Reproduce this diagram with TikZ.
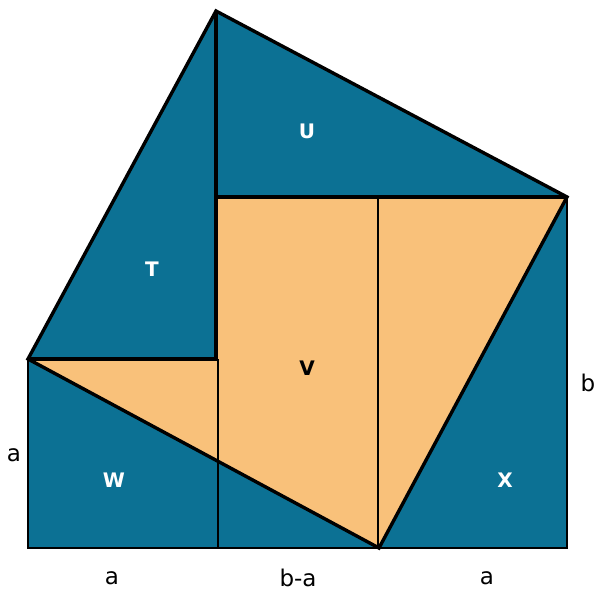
\documentclass[tikz,border=0pt]{standalone}
\usepackage{fontspec}
\setmainfont{DejaVu Sans}
\definecolor{tealblue}{HTML}{0C7194}
\definecolor{peach}{HTML}{F9C17A}
\tikzset{
  thinln/.style={draw=black, line width=2pt},
  thickln/.style={draw=black, line width=3.4pt, line join=miter},
  region/.style={font=\fontsize{20}{20}\selectfont\bfseries, text=white},
  dimlbl/.style={font=\fontsize{23}{23}\selectfont, text=black}
}
\begin{document}
\begin{tikzpicture}[x=1pt,y=-1pt]
\useasboundingbox (0,0) rectangle (611,602);
% key points
\coordinate (L) at (28,359);
\coordinate (A) at (216,11);
\coordinate (R) at (567,197);
\coordinate (B) at (379,548);
\coordinate (BL) at (28,548);
\coordinate (BR) at (567,548);
\coordinate (IC) at (216,359);
\coordinate (IT) at (216,197);
\coordinate (M1) at (218,359);
\coordinate (M1b) at (218,548);
\coordinate (M2) at (378,197);
\coordinate (M2b) at (378,548);
% fills
\fill[tealblue] (L) -- (A) -- (R) -- (BR) -- (BL) -- cycle;
\fill[peach] (L) -- (IC) -- (IT) -- (R) -- (B) -- cycle;
% thin lines
\draw[thinln] (L) -- (BL) -- (BR) -- (R);
\draw[thinln] (M1) -- (M1b);
\draw[thinln] (M2) -- (M2b);
% thick lines
\draw[thickln] (L) -- (A) -- (R) -- (B) -- cycle;
\draw[thickln] (A) -- (IT);
\draw[thickln] (IT) -- (R);
\draw[thickln] (IT) -- (IC) -- (L);
% labels
\node[region] (T) at (152,269) {T};
\node[region] (U) at (307,131) {U};
\node[region, text=black] (V) at (307,368) {V};
\node[region] (W) at (114,480) {W};
\node[region] (X) at (505,480) {X};
\node[dimlbl] (la) at (14,455) {a};
\node[dimlbl] (lb) at (588,383) {b};
\node[dimlbl] (ba1) at (112,578) {a};
\node[dimlbl] (bba) at (298,578) {b-a};
\node[dimlbl] (ba2) at (487,578) {a};
\end{tikzpicture}
\end{document}
